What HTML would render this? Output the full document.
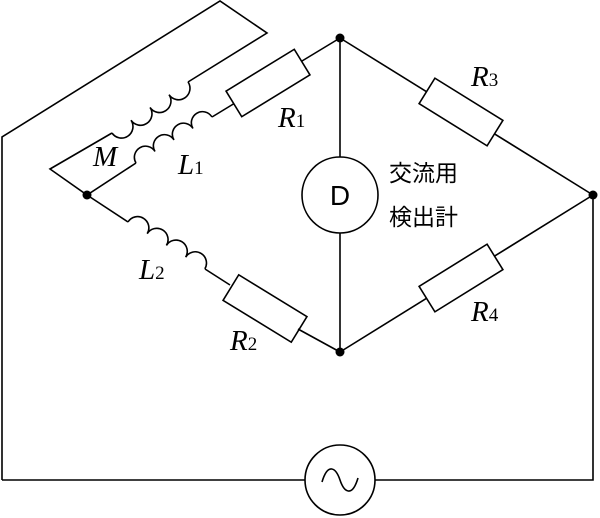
<!DOCTYPE html>
<html><head><meta charset="utf-8"><style>
html,body{margin:0;padding:0;background:#fff;}
svg{display:block;}
.l{font-family:"Liberation Serif",serif;font-style:italic;font-size:29px;}
.s{font-family:"Liberation Serif",serif;font-size:19px;font-style:normal;}
.j{font-family:"Liberation Sans","Noto Sans CJK JP",sans-serif;font-size:23px;}
</style></head><body>
<svg width="600" height="518" viewBox="0 0 600 518" xmlns="http://www.w3.org/2000/svg">
<g fill="none" stroke="#000" stroke-width="1.6">
<polyline points="2,480 2,137 220,1 267,33 188,82"/>
<polyline points="112,133 50,169 87,195 136,163"/>
<g transform="translate(112,133) rotate(-33.9)">
<path d="M0,0 a11.4,11.4 0 0 0 22.9,0 a11.4,11.4 0 0 0 22.9,0 a11.4,11.4 0 0 0 22.9,0 a11.4,11.4 0 0 0 22.9,0"/>
</g>
<g transform="translate(136,163) rotate(-31.2)">
<path d="M0,0 a11.1,11.1 0 0 1 22.2,0 a11.1,11.1 0 0 1 22.2,0 a11.1,11.1 0 0 1 22.2,0 a11.1,11.1 0 0 1 22.2,0"/>
</g>
<line x1="212" y1="117" x2="235" y2="103"/>
<g transform="translate(268,83) rotate(-31.5)"><rect x="-40" y="-15" width="80" height="30" fill="#fff"/></g>
<line x1="302" y1="61" x2="340" y2="38"/>
<line x1="87" y1="195" x2="128" y2="222"/>
<g transform="translate(128,222) rotate(31.4)">
<path d="M0,0 a11.25,11.25 0 0 1 22.5,0 a11.25,11.25 0 0 1 22.5,0 a11.25,11.25 0 0 1 22.5,0 a11.25,11.25 0 0 1 22.5,0"/>
</g>
<line x1="205" y1="269" x2="230" y2="285"/>
<g transform="translate(265,308.5) rotate(31.5)"><rect x="-40" y="-15" width="80" height="30" fill="#fff"/></g>
<line x1="298" y1="329" x2="340" y2="352"/>
<line x1="340" y1="38" x2="593" y2="195"/>
<line x1="340" y1="352" x2="593" y2="195"/>
<g transform="translate(461,112) rotate(31.8)"><rect x="-40" y="-15" width="80" height="30" fill="#fff"/></g>
<g transform="translate(461,278) rotate(-31.8)"><rect x="-40" y="-15" width="80" height="30" fill="#fff"/></g>
<line x1="340" y1="38" x2="340" y2="352"/>
<circle cx="340" cy="195" r="38" fill="#fff"/>
<polyline points="2,480 305,480"/>
<polyline points="375,480 593,480 593,195"/>
<circle cx="340" cy="480" r="35" fill="#fff"/>
<path d="M322,482 C328,462 336,468 340,480 C344,492 352,498 358,478"/>
</g>
<g fill="#000">
<circle cx="340" cy="38" r="4.5"/>
<circle cx="340" cy="352" r="4.5"/>
<circle cx="87" cy="195" r="4.5"/>
<circle cx="593" cy="195" r="4.5"/>
</g>
<text x="340" y="205" text-anchor="middle" font-family="Liberation Sans,sans-serif" font-size="28">D</text>
<text class="j" x="389" y="181">交流用</text>
<text class="j" x="389" y="225">検出計</text>
<text class="l" x="278" y="127">R<tspan class="s">1</tspan></text>
<text class="l" x="178" y="174">L<tspan class="s">1</tspan></text>
<text class="l" x="93" y="166">M</text>
<text class="l" x="139" y="279">L<tspan class="s">2</tspan></text>
<text class="l" x="230" y="350">R<tspan class="s">2</tspan></text>
<text class="l" x="471" y="86">R<tspan class="s">3</tspan></text>
<text class="l" x="471" y="321">R<tspan class="s">4</tspan></text>
</svg>
</body></html>
